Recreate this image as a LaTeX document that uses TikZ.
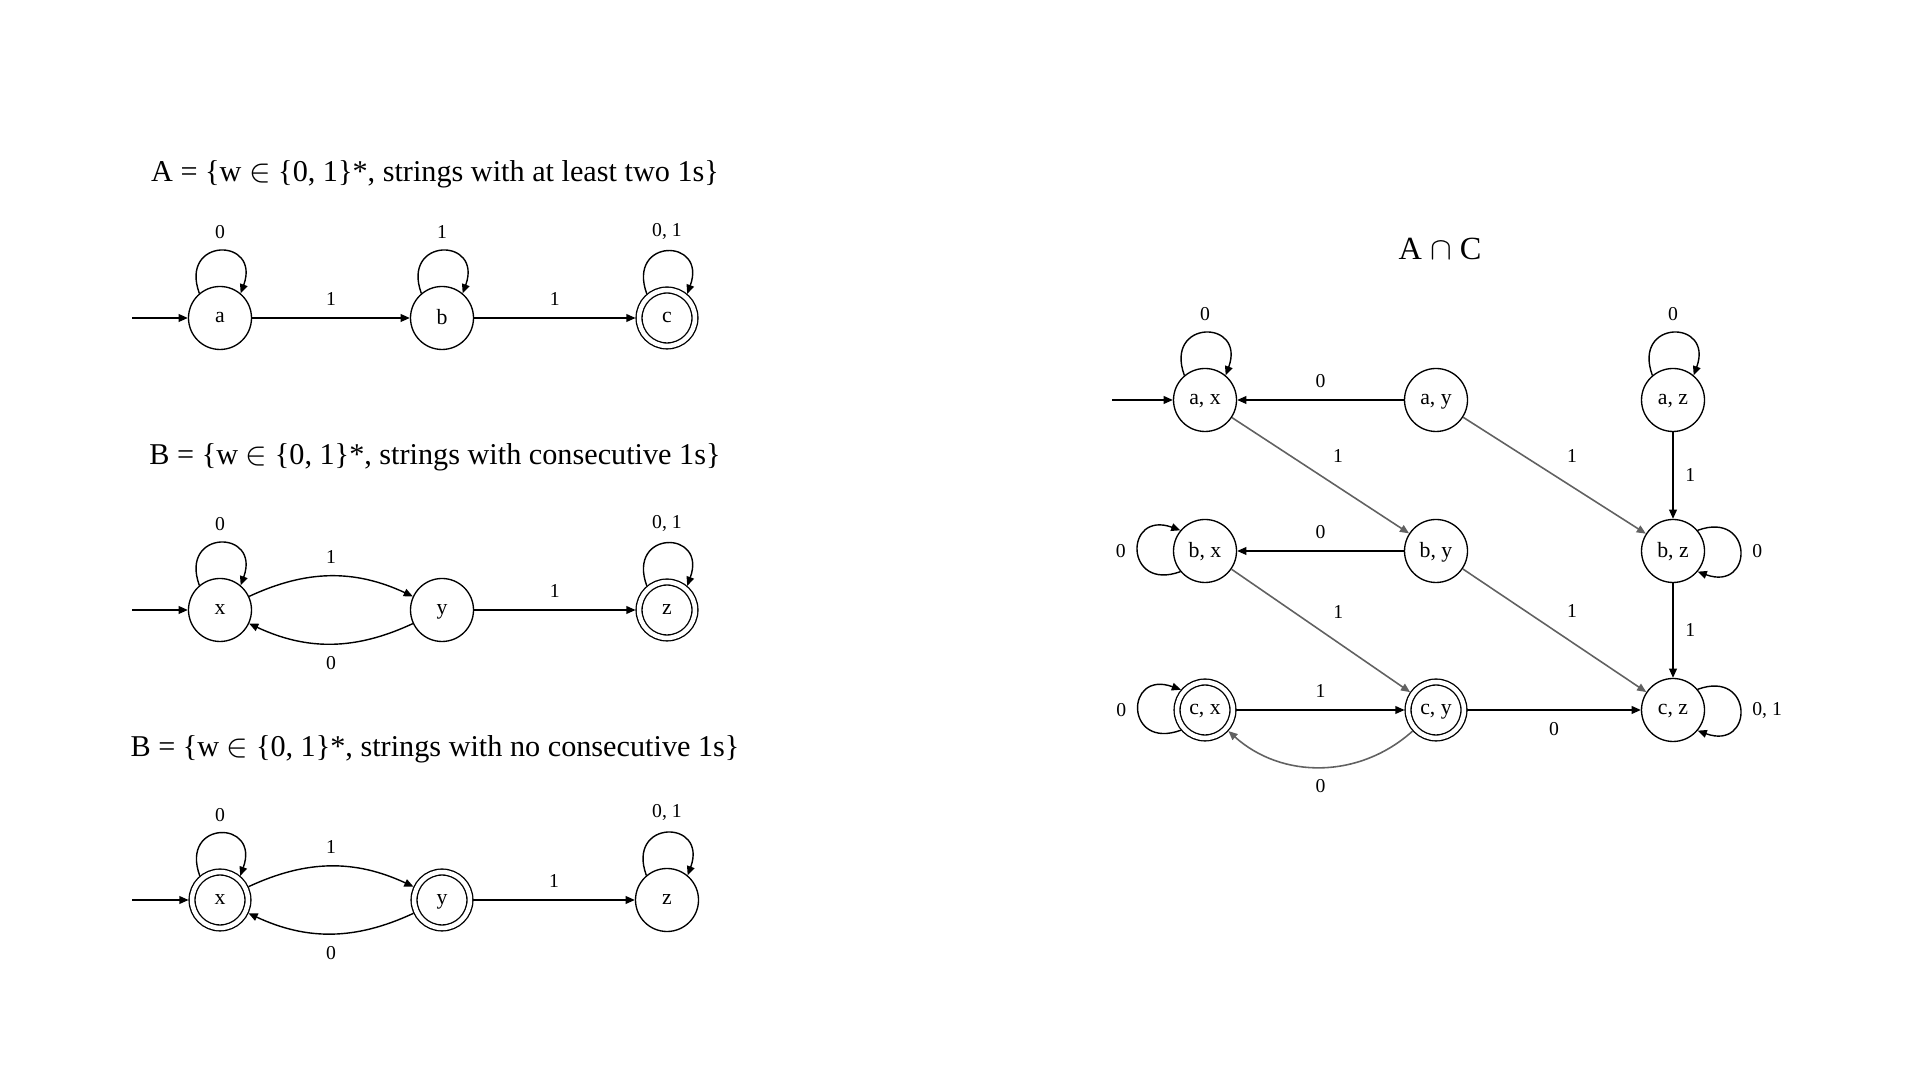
\documentclass[tikz,border=0pt]{standalone}
\usepackage{fontspec}
\setmainfont{Liberation Serif}
\usetikzlibrary{arrows.meta}

\begin{document}
\begin{tikzpicture}[
    every node/.style={font=\fontsize{5.6}{6.5}\selectfont},
    st/.style={circle, draw, line width=0.38pt, minimum size=0.63cm, inner sep=0pt,
        font=\fontsize{6.2}{7}\selectfont, text depth=0.4pt},
    acc/.style={st, double, double distance=1.3pt, minimum size=15.9pt, outer sep=1pt},
    ttl/.style={font=\fontsize{8.6}{10}\selectfont},
    arr/.style={-{Triangle[length=2.6pt, width=2.2pt]}, line width=0.4pt},
    diag/.style={arr, draw=black!62, line width=0.45pt},
]
\useasboundingbox (0,0) rectangle (19.2,10.8);

% Language A
\node[ttl] (tA) at (4.35, 9.06) {A = \{w $\in$ \{0, 1\}*, strings with at least two 1s\}};
\node[st] (a) at (2.20, 7.62) {a};
\node[st] (b) at (4.42, 7.62) {b};
\node[acc] (c) at (6.67, 7.62) {c};
\coordinate (sa) at (1.32, 7.62);
\draw[arr] (sa) -- (a);
\draw[arr] (a) -- node[above] {1} (b);
\draw[arr] (b) -- node[above] {1} (c);
\draw[arr] (a.130) .. controls +(110:0.6) and +(70:0.6) .. node[above] {0} (a.50);
\draw[arr] (b.130) .. controls +(110:0.6) and +(70:0.6) .. node[above] {1} (b.50);
\draw[arr] (c.130) .. controls +(110:0.6) and +(70:0.6) .. node[above] {0, 1} (c.50);

% Language B (consecutive 1s)
\node[ttl] (tB) at (4.35, 6.23) {B = \{w $\in$ \{0, 1\}*, strings with consecutive 1s\}};
\node[st] (x) at (2.20, 4.70) {x};
\node[st] (y) at (4.42, 4.70) {y};
\node[acc] (z) at (6.67, 4.70) {z};
\coordinate (sx) at (1.32, 4.70);
\draw[arr] (sx) -- (x);
\draw[arr] (x) to[bend left=25] node[above] {1} (y);
\draw[arr] (y) to[bend left=25] node[below] {0} (x);
\draw[arr] (y) -- node[above] {1} (z);
\draw[arr] (x.130) .. controls +(110:0.6) and +(70:0.6) .. node[above] {0} (x.50);
\draw[arr] (z.130) .. controls +(110:0.6) and +(70:0.6) .. node[above] {0, 1} (z.50);

% Language B (no consecutive 1s)
\node[ttl] (tC) at (4.35, 3.31) {B = \{w $\in$ \{0, 1\}*, strings with no consecutive 1s\}};
\node[acc] (xn) at (2.20, 1.80) {x};
\node[acc] (yn) at (4.42, 1.80) {y};
\node[st] (zn) at (6.67, 1.80) {z};
\coordinate (sxn) at (1.32, 1.80);
\draw[arr] (sxn) -- (xn);
\draw[arr] (xn) to[bend left=25] node[above] {1} (yn);
\draw[arr] (yn) to[bend left=25] node[below] {0} (xn);
\draw[arr] (yn) -- node[above] {1} (zn);
\draw[arr] (xn.130) .. controls +(110:0.6) and +(70:0.6) .. node[above] {0} (xn.50);
\draw[arr] (zn.130) .. controls +(110:0.6) and +(70:0.6) .. node[above] {0, 1} (zn.50);

% Product automaton
\node[ttl, font=\fontsize{9.2}{11}\selectfont] (tI) at (14.40, 8.31) {A $\cap$ C};
\node[st] (ax) at (12.05, 6.80) {a, x};
\node[st] (ay) at (14.36, 6.80) {a, y};
\node[st] (az) at (16.73, 6.80) {a, z};
\node[st] (bx) at (12.05, 5.29) {b, x};
\node[st] (by) at (14.36, 5.29) {b, y};
\node[st] (bz) at (16.73, 5.29) {b, z};
\node[acc] (cx) at (12.05, 3.70) {c, x};
\node[acc] (cy) at (14.36, 3.70) {c, y};
\node[st] (cz) at (16.73, 3.70) {c, z};
\coordinate (sax) at (11.12, 6.80);
\draw[arr] (sax) -- (ax);

\draw[arr] (ay) -- node[above] {0} (ax);
\draw[diag] (ax) -- node[above right] {1} (by);
\draw[diag] (ay) -- node[above right] {1} (bz);
\draw[arr] (az) -- node[right] {1} (bz);
\draw[arr] (by) -- node[above] {0} (bx);
\draw[diag] (bx) -- node[above right] {1} (cy);
\draw[diag] (by) -- node[above right] {1} (cz);
\draw[arr] (bz) -- node[right] {1} (cz);
\draw[arr] (cx) -- node[above] {1} (cy);
\draw[arr] (cy) -- node[below] {0} (cz);
\draw[diag] (cy) to[bend left=42] node[below] {0} (cx);

% self loops
\draw[arr] (ax.130) .. controls +(110:0.6) and +(70:0.6) .. node[above] {0} (ax.50);
\draw[arr] (az.130) .. controls +(110:0.6) and +(70:0.6) .. node[above] {0} (az.50);
\draw[arr] (bx.220) .. controls +(200:0.6) and +(160:0.6) .. node[left] {0} (bx.140);
\draw[arr] (cx.220) .. controls +(200:0.6) and +(160:0.6) .. node[left] {0} (cx.140);
\draw[arr] (bz.40) .. controls +(20:0.6) and +(-20:0.6) .. node[right] {0} (bz.-40);
\draw[arr] (cz.40) .. controls +(20:0.6) and +(-20:0.6) .. node[right] {0, 1} (cz.-40);
\end{tikzpicture}
\end{document}
